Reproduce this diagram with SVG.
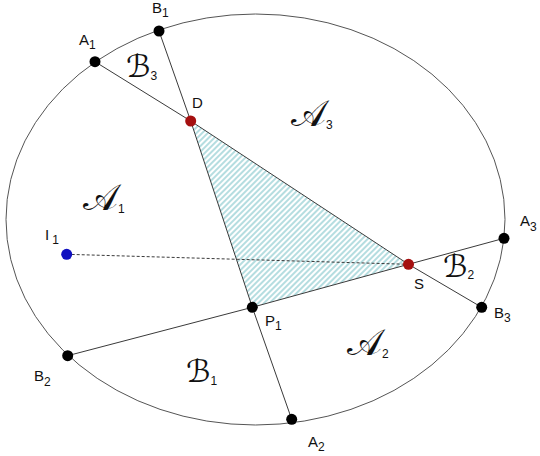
<svg xmlns="http://www.w3.org/2000/svg" width="540" height="456" viewBox="0 0 540 456">
<style>
.lbl{font-family:"Liberation Sans",Arial,sans-serif;font-size:15px;fill:#111}
.sub{font-size:12px}
.scr{font-family:"DejaVu Sans",sans-serif;font-size:37px;fill:#111}
.scrb{font-family:"DejaVu Sans",sans-serif;font-size:31px;font-style:italic;fill:#111}
.scrsub{font-family:"Liberation Sans",Arial,sans-serif;font-size:12px;font-style:normal}
.ln{stroke:#3a3a3a;stroke-width:1;fill:none}
.pt{fill:#000}
.red{fill:#a50f0f}
</style>
<defs>
<pattern id="hatch" patternUnits="userSpaceOnUse" width="4" height="4" patternTransform="rotate(45)">
<rect width="4" height="4" fill="#ffffff"/>
<rect width="2" height="4" fill="#b5dde0"/>
</pattern>
</defs>
<rect width="540" height="456" fill="#fff"/>
<ellipse cx="255.5" cy="219.5" rx="249.5" ry="205.5" fill="none" stroke="#555" stroke-width="1"/>
<polygon points="190.7,121 252.3,307.3 408.5,264.3" fill="url(#hatch)"/>
<g id="connectors">
<line class="ln" x1="95" y1="61.7" x2="190.7" y2="121"/>
<line class="ln" x1="190.7" y1="121" x2="408.5" y2="264.3"/>
<line class="ln" x1="408.5" y1="264.3" x2="481.7" y2="307.3"/>
<line class="ln" x1="159" y1="31" x2="190.7" y2="121"/>
<line class="ln" x1="190.7" y1="121" x2="252.3" y2="307.3"/>
<line class="ln" x1="252.3" y1="307.3" x2="291.7" y2="419.3"/>
<line class="ln" x1="67.7" y1="355.7" x2="252.3" y2="307.3"/>
<line class="ln" x1="252.3" y1="307.3" x2="408.5" y2="264.3"/>
<line class="ln" x1="408.5" y1="264.3" x2="504" y2="238.3"/>
<line class="ln" x1="66.7" y1="254.3" x2="408.5" y2="264.3" stroke-dasharray="3,2"/>
</g>
<g id="A1"><circle class="pt" cx="95" cy="61.7" r="5.5"/><text class="lbl" x="79" y="45">A<tspan class="sub" dy="4">1</tspan></text></g>
<g id="B1"><circle class="pt" cx="159" cy="31" r="5.5"/><text class="lbl" x="152" y="13">B<tspan class="sub" dy="4">1</tspan></text></g>
<g id="D"><circle class="red" cx="190.7" cy="121" r="5.5"/><text class="lbl" x="192" y="108">D</text></g>
<g id="S"><circle class="red" cx="408.5" cy="264.3" r="5.5"/><text class="lbl" x="414" y="289">S</text></g>
<g id="P1"><circle class="pt" cx="252.3" cy="307.3" r="5.5"/><text class="lbl" x="265" y="326">P<tspan class="sub" dy="4">1</tspan></text></g>
<g id="A3"><circle class="pt" cx="504" cy="238.3" r="5.5"/><text class="lbl" x="520" y="226">A<tspan class="sub" dy="5">3</tspan></text></g>
<g id="B3"><circle class="pt" cx="481.7" cy="307.3" r="5.5"/><text class="lbl" x="494" y="318">B<tspan class="sub" dy="4">3</tspan></text></g>
<g id="B2"><circle class="pt" cx="67.7" cy="355.7" r="5.5"/><text class="lbl" x="34" y="381">B<tspan class="sub" dy="5">2</tspan></text></g>
<g id="A2"><circle class="pt" cx="291.7" cy="419.3" r="5.5"/><text class="lbl" x="308" y="447">A<tspan class="sub" dy="4">2</tspan></text></g>
<g id="I1"><circle fill="#1010c0" cx="66.7" cy="254.3" r="5.5"/><text class="lbl" x="45" y="240">I<tspan class="sub" dx="3" dy="4">1</tspan></text></g>
<g id="regionA1"><text class="scr" x="83" y="210">𝒜<tspan class="scrsub" dy="3">1</tspan></text></g>
<g id="regionA2"><text class="scr" x="347" y="355">𝒜<tspan class="scrsub" dy="3">2</tspan></text></g>
<g id="regionA3"><text class="scr" x="291" y="126">𝒜<tspan class="scrsub" dy="3">3</tspan></text></g>
<g id="regionB1"><text class="scrb" x="186" y="382">ℬ<tspan class="scrsub" dy="3">1</tspan></text></g>
<g id="regionB2"><text class="scrb" x="443" y="277">ℬ<tspan class="scrsub" dy="2">2</tspan></text></g>
<g id="regionB3"><text class="scrb" x="126" y="77">ℬ<tspan class="scrsub" dy="3">3</tspan></text></g>
</svg>
